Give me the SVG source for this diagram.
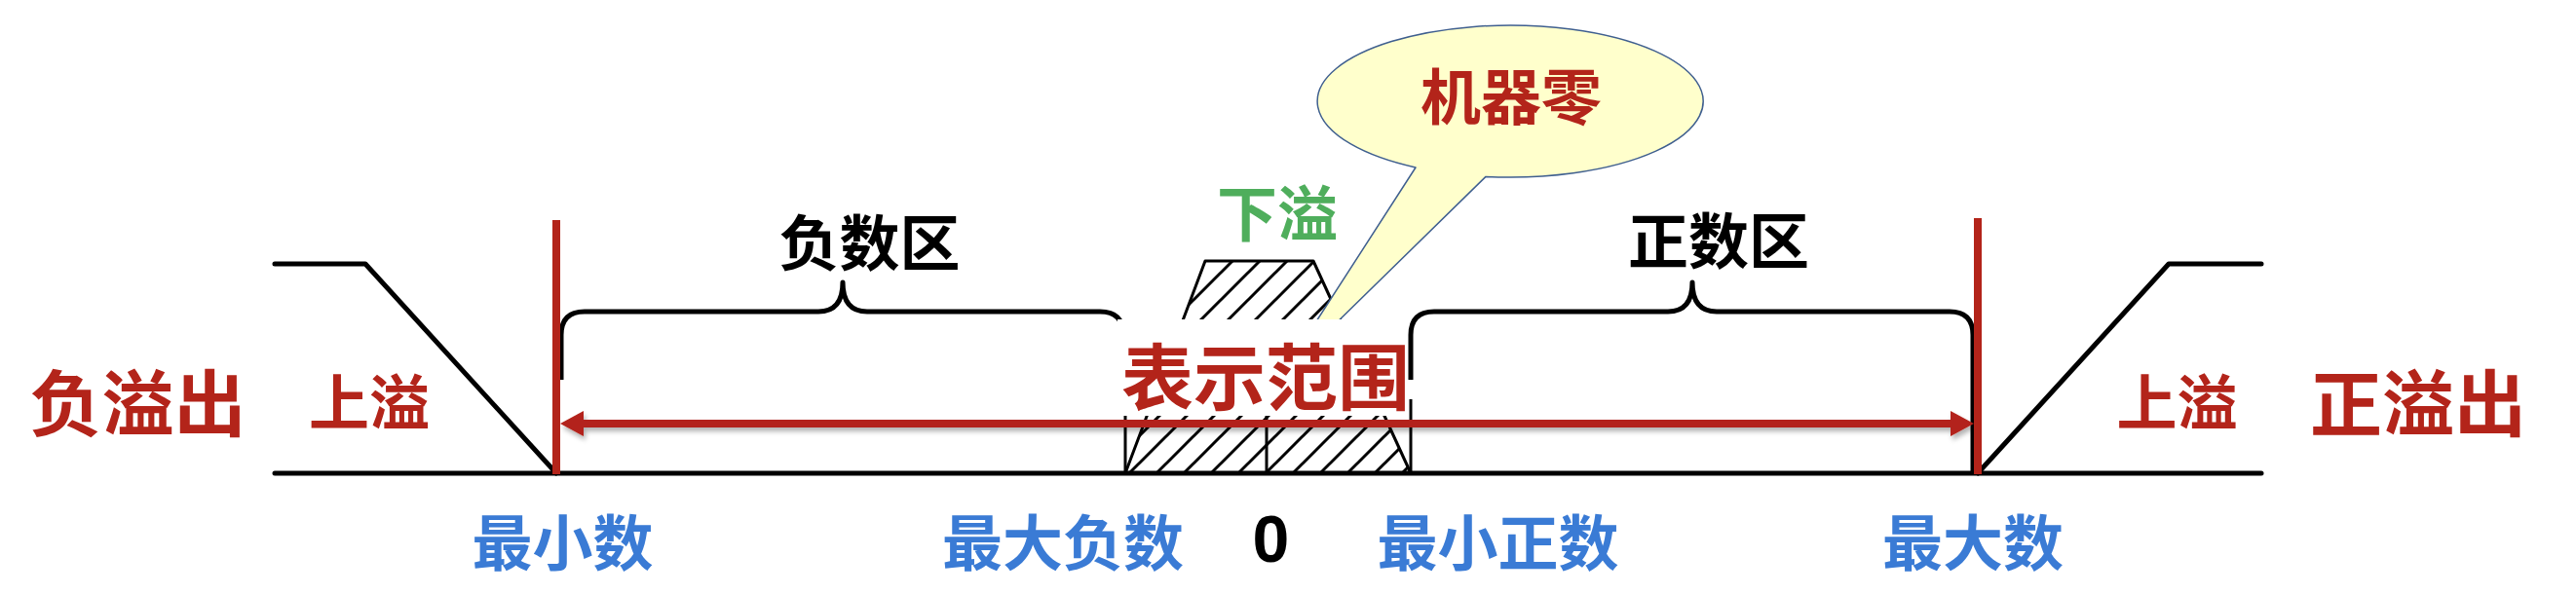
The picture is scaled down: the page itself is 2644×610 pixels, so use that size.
<svg xmlns="http://www.w3.org/2000/svg" width="2644" height="610" viewBox="0 0 2644 610">
  <style>
    .cjk { font-family: "Noto Sans CJK SC", "Noto Sans CJK JP", sans-serif; font-weight: bold; text-anchor: middle; }
    .red { fill: #B3241A; }
    .blue { fill: #3A7BD5; }
    .green { fill: #4FAE5C; }
    .black { fill: #000; }
    .ln { fill: none; stroke: #000; stroke-width: 5; stroke-linecap: round; stroke-linejoin: round; }
    .brace { fill: none; stroke: #000; stroke-width: 5; stroke-linejoin: round; }
    .redv { stroke: #B3241A; stroke-width: 8; }
  </style>
  <defs>
    <pattern id="hatch" patternUnits="userSpaceOnUse" x="21" y="0" width="28" height="28">
      <path d="M-7,7 L7,-7 M0,28 L28,0 M21,35 L35,21" stroke="#000" stroke-width="3"/>
    </pattern>
    <filter id="shadow" x="-5%" y="-50%" width="110%" height="300%">
      <feDropShadow dx="2" dy="4" stdDeviation="2.5" flood-color="#000" flood-opacity="0.3"/>
    </filter>
  </defs>
  <rect width="2644" height="610" fill="#fff"/>

  <g id="connectors">
    <!-- axis baseline -->
    <path class="ln" d="M282,486 L2321,486"/>
    <!-- left overflow -->
    <path class="ln" d="M282,271 L375,271 L571,486"/>
    <!-- right overflow -->
    <path class="ln" d="M2030,486 L2226,271 L2321,271"/>
    <!-- negative brace -->
    <path class="brace" d="M576,390 L576,344 Q576,320 600,320 L840,320 Q865,320 865,290 Q865,320 890,320 L1129,320 Q1153,320 1153,344 L1153,390"/>
    <!-- positive brace -->
    <path class="brace" d="M1448,390 L1448,344 Q1448,320 1472,320 L1712,320 Q1737,320 1737,290 Q1737,320 1762,320 L2001,320 Q2025,320 2025,344 L2025,486"/>
    <!-- underflow hatched region -->
    <polygon points="1155,486 1237,268 1348,268 1448,486" fill="url(#hatch)" stroke="#000" stroke-width="3" stroke-linejoin="round"/>
    <path d="M1155,486 L1155,420 M1448,486 L1448,410 M1300,486 L1300,420" stroke="#000" stroke-width="3" fill="none"/>
  </g>

  <g id="callout">
    <path d="M1453,172 L1313,389 L1525,181.4 A198,78 0 1 0 1453,172 Z" fill="#FFFFCC" stroke="#3F5F8F" stroke-width="1.5" stroke-linejoin="round"/>
    <text class="cjk red" x="1551" y="123" font-size="62">机器零</text>
  </g>

  <g id="range">
    <rect x="1147" y="328" width="298" height="99" fill="#fff"/>
    <text class="cjk red" x="1299" y="415" font-size="74">表示范围</text>
  </g>

  <g id="range-arrow" filter="url(#shadow)">
    <line x1="596" y1="435" x2="2005" y2="435" stroke="#B3241A" stroke-width="8"/>
    <polygon points="575,435 599,422 599,448" fill="#B3241A"/>
    <polygon points="2026,435 2002,422 2002,448" fill="#B3241A"/>
  </g>

  <g id="bounds">
    <line class="redv" x1="571" y1="226" x2="571" y2="487"/>
    <line class="redv" x1="2030" y1="224" x2="2030" y2="487"/>
  </g>

  <g id="neg-overflow"><text class="cjk red" x="141.5" y="442" font-size="74">负溢出</text></g>
  <g id="neg-upper"><text class="cjk red" x="379" y="437" font-size="62">上溢</text></g>
  <g id="pos-upper"><text class="cjk red" x="2234.5" y="437" font-size="62">上溢</text></g>
  <g id="pos-overflow"><text class="cjk red" x="2482" y="442" font-size="74">正溢出</text></g>
  <g id="neg-zone"><text class="cjk black" x="892.5" y="273" font-size="62">负数区</text></g>
  <g id="pos-zone"><text class="cjk black" x="1764" y="271" font-size="62">正数区</text></g>
  <g id="underflow"><text class="cjk green" x="1311" y="243" font-size="62">下溢</text></g>

  <g id="min-num"><text class="cjk blue" x="577.5" y="581" font-size="62">最小数</text></g>
  <g id="max-neg"><text class="cjk blue" x="1091" y="581" font-size="62">最大负数</text></g>
  <g id="zero"><text x="1304.5" y="577" font-size="68" font-family="'Liberation Sans', Arial, sans-serif" font-weight="bold" text-anchor="middle" fill="#000">0</text></g>
  <g id="min-pos"><text class="cjk blue" x="1537.5" y="581" font-size="62">最小正数</text></g>
  <g id="max-num"><text class="cjk blue" x="2025" y="581" font-size="62">最大数</text></g>
</svg>
